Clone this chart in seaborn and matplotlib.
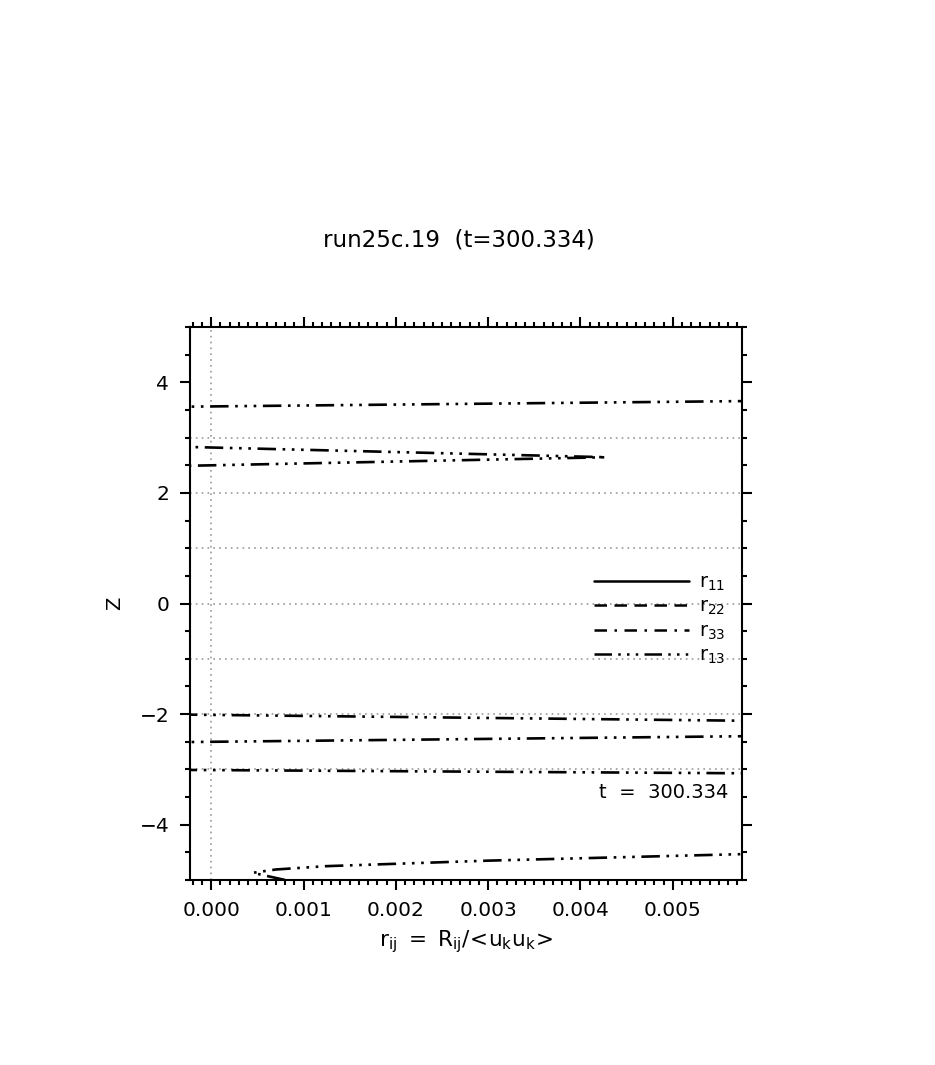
import numpy as np
import pandas as pd
import matplotlib
matplotlib.use("Agg")
import matplotlib.pyplot as plt
from matplotlib.lines import Line2D
from matplotlib.ticker import MultipleLocator
import seaborn as sns

# ---- data ----
title = "run25c.19  (t=300.334)"
time_label = "t  =  300.334"
z_r13 = [-5.0, -4.87, -4.81, -4.75, -4.65, -4.53, -4.2, -3.6, -3.1, -3.0,
         -2.55, -2.35, -2.15, -1.95, 0.0, 2.45, 2.645, 2.85, 3.5, 3.7, 5.0]
r13 = [0.0008, 0.00045, 0.0007, 0.00124, 0.003, 0.0058, 0.012, 0.015, 0.00875, -0.00123,
       -0.0028, 0.00861, 0.00739, -0.00351, -0.004, -0.00143, 0.00428, -0.00071, -0.00382, 0.00815, 0.012]
grid_z = [-3, -2, -1, 0, 1, 2, 3]
grid_x = [0.0]
legend_labels = [r"$\mathregular{r_{11}}$", r"$\mathregular{r_{22}}$", r"$\mathregular{r_{33}}$", r"$\mathregular{r_{13}}$"]
xticks = [0.000, 0.001, 0.002, 0.003, 0.004, 0.005]
xticklabels = ["0.000", "0.001", "0.002", "0.003", "0.004", "0.005"]
yticks = [-4, -2, 0, 2, 4]

sns.set_style("white")
plt.rcParams['font.family'] = ['DejaVu Sans']
plt.rcParams['mathtext.fontset'] = 'dejavusans'
plt.rcParams['text.color'] = 'black'
plt.rcParams['axes.labelcolor'] = 'black'
plt.rcParams['xtick.color'] = 'black'
plt.rcParams['ytick.color'] = 'black'

fig = plt.figure(figsize=(9.35, 10.65), dpi=100)
ax = fig.add_axes([190/935, 1-880/1065, (742-190)/935, (880-327)/1065])

styles = ['-', (0, (5, 3)), (0, (5, 3, 1, 3)), (0, (7, 2.5, 1, 2.5, 1, 2.5, 1, 2.5))]

for gz in grid_z:
    ax.axhline(gz, color='#999999', lw=1.2, ls=(0, (1, 2.5)), zorder=1)
for gx in grid_x:
    ax.axvline(gx, color='#999999', lw=1.2, ls=(0, (1, 2.5)), zorder=1)

df = pd.DataFrame({"r13": r13, "z": z_r13})
sns.lineplot(data=df, x="r13", y="z", sort=False, estimator=None, ax=ax,
             color='black', lw=1.9, linestyle=styles[3], zorder=3)

ax.set_xlim(-0.00023, 0.00575)
ax.set_ylim(-5, 5)
ax.set_xticks(xticks)
ax.set_xticklabels(xticklabels)
ax.set_yticks(yticks)
ax.xaxis.set_minor_locator(MultipleLocator(0.0001))
ax.yaxis.set_minor_locator(MultipleLocator(0.5))
ax.tick_params(which='both', direction='out', top=True, right=True, bottom=True, left=True,
               labeltop=False, labelright=False, width=1.5, color='black')
ax.tick_params(which='major', length=7, labelsize=14.5, pad=8)
ax.tick_params(which='minor', length=3.5)
for s in ax.spines.values():
    s.set_linewidth(1.5)
    s.set_color('black')

ax.set_xlabel(r"$\mathregular{r_{ij}\ =\ R_{ij}/\!<\!u_k u_k\!>}$", fontsize=15.5, labelpad=6)
ax.set_ylabel("Z", fontsize=14, labelpad=11)
fig.text(459/935, 1-240/1065, title, ha='center', va='center', fontsize=16.5)
fig.text(728/935, 1-792/1065, time_label, ha='right', va='center', fontsize=14)

handles = [Line2D([0], [0], color='black', lw=1.8, ls=st) for st in styles]
leg = fig.legend(handles, legend_labels, loc='upper left', bbox_to_anchor=(594/935, 1-573/1065),
                 frameon=False, fontsize=14, handlelength=4.9, handletextpad=0.5,
                 labelspacing=0.2, borderpad=0, borderaxespad=0)

fig.savefig("out.png", dpi=100, facecolor='white')
